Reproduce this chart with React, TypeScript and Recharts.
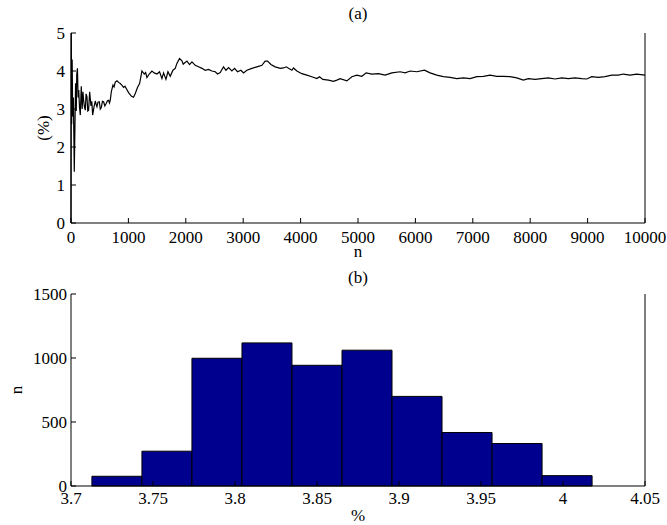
import React from 'react';
import { LineChart, Line, BarChart, Bar, XAxis, YAxis } from 'recharts';

// (a) running percentage vs n
const nValues = [
  0, 5, 12, 20, 30, 42, 57, 80, 92, 100, 112, 124, 135, 148, 162, 179, 195, 208, 220, 235,
  249, 263, 278, 292, 307, 325, 348, 362, 377, 400, 423, 438, 452, 470, 493, 510, 528, 548, 568, 590,
  615, 635, 655, 670, 684, 702, 731, 750, 771, 801, 830, 858, 885, 916, 940, 963, 1003, 1050, 1090, 1120,
  1160, 1195, 1236, 1276, 1300, 1323, 1363, 1410, 1450, 1497, 1543, 1584, 1613, 1654, 1689, 1729, 1776, 1816, 1845, 1891,
  1933, 1955, 1978, 2020, 2065, 2107, 2164, 2222, 2281, 2338, 2396, 2455, 2513, 2553, 2600, 2657, 2699, 2745, 2803, 2849,
  2901, 2960, 3006, 3064, 3151, 3239, 3326, 3383, 3424, 3483, 3557, 3645, 3702, 3749, 3790, 3848, 3876, 3935, 4022, 4109,
  4196, 4284, 4329, 4387, 4486, 4573, 4631, 4689, 4806, 4893, 4980, 5067, 5142, 5241, 5357, 5473, 5590, 5734, 5821, 5908,
  6025, 6157, 6256, 6373, 6488, 6605, 6721, 6837, 6953, 7070, 7185, 7301, 7418, 7533, 7649, 7766, 7881, 7968, 8085, 8201,
  8316, 8433, 8550, 8665, 8781, 8898, 8985, 9072, 9187, 9304, 9420, 9535, 9622, 9739, 9855, 10000,
];
const pctValues = [
  0, 5, 2.6, 4.3, 2.8, 3.3, 1.35, 3.68, 2.95, 3.9, 4.07, 3.3, 3.5, 3.05, 2.84, 3.6, 3.0, 3.45, 3.23, 3.05,
  2.97, 3.4, 3.32, 2.95, 2.97, 3.45, 3.08, 3.2, 2.84, 3.05, 3.21, 3.12, 3.06, 3.18, 3.19, 3.0, 3.04, 3.2, 3.19, 3.08,
  3.15, 3.22, 3.23, 3.16, 3.23, 3.45, 3.63, 3.58, 3.71, 3.74, 3.7, 3.67, 3.63, 3.57, 3.6, 3.54, 3.43, 3.34, 3.31, 3.41,
  3.57, 3.67, 4.0, 3.92, 3.96, 3.83, 3.92, 4.0, 3.95, 3.92, 3.98, 3.8, 3.95, 3.78, 3.98, 3.86, 4.02, 4.07, 4.2, 4.33,
  4.27, 4.18, 4.21, 4.26, 4.17, 4.24, 4.15, 4.11, 4.07, 4.02, 4.04, 4.0, 3.98, 3.92, 3.96, 4.11, 4.02, 4.09, 4.0, 4.07,
  3.98, 4.02, 3.95, 4.02, 4.07, 4.11, 4.15, 4.26, 4.26, 4.17, 4.11, 4.07, 4.08, 4.11, 4.07, 4.02, 4.08, 4.0, 3.93, 3.89,
  3.85, 3.8, 3.85, 3.78, 3.76, 3.73, 3.76, 3.8, 3.74, 3.85, 3.89, 3.86, 3.95, 3.92, 3.93, 3.89, 3.95, 3.98, 3.95, 4.0,
  3.98, 4.02, 3.95, 3.89, 3.85, 3.83, 3.8, 3.82, 3.8, 3.85, 3.86, 3.89, 3.86, 3.86, 3.85, 3.82, 3.76, 3.8, 3.78, 3.8,
  3.82, 3.79, 3.82, 3.8, 3.82, 3.8, 3.79, 3.85, 3.83, 3.85, 3.89, 3.89, 3.92, 3.89, 3.92, 3.89,
];
const nTicks = [0, 1000, 2000, 3000, 4000, 5000, 6000, 7000, 8000, 9000, 10000];
const pctTicks = [0, 1, 2, 3, 4, 5];

// (b) histogram
const binCenters = [3.728, 3.7585, 3.789, 3.8195, 3.85, 3.8805, 3.911, 3.9415, 3.972, 4.0025];
const binCounts = [76, 272, 998, 1118, 943, 1061, 700, 418, 332, 81];
const pctAxisTicks = [3.7, 3.75, 3.8, 3.85, 3.9, 3.95, 4, 4.05];
const countTicks = [0, 500, 1000, 1500];

const lineData = nValues.map((n, i) => ({ n, pct: pctValues[i] }));
const histData = binCenters.map((c, i) => ({ c, count: binCounts[i] }));

const FONT = '"Liberation Serif", "Times New Roman", serif';
const tickStyle = { fontFamily: FONT, fontSize: 17, fill: '#000' };
const axisLine = { stroke: '#000', strokeWidth: 1 };

const label = (text: string, x: number, y: number, rotate = false) => (
  <div
    style={{
      position: 'absolute',
      left: x,
      top: y,
      transform: `translate(-50%, -50%)${rotate ? ' rotate(-90deg)' : ''}`,
      fontFamily: FONT,
      fontSize: 17,
      color: '#000',
      whiteSpace: 'nowrap',
      lineHeight: 1,
    }}
  >
    {text}
  </div>
);

const App = () => {
  return (
    <div style={{ position: 'absolute', left: 0, top: 0, width: 667, height: 525, background: '#fff', overflow: 'hidden' }}>
      <div style={{ position: 'absolute', left: 0, top: 0 }}>
        <LineChart width={667} height={260} data={lineData} margin={{ top: 33, right: 0, bottom: 0, left: 0 }}>
          <XAxis
            xAxisId="b"
            dataKey="n"
            type="number"
            domain={[0, 10000]}
            ticks={nTicks}
            interval={0}
            height={37}
            tickSize={-5}
            tickMargin={13}
            tick={tickStyle}
            axisLine={axisLine}
            tickLine={axisLine}
          />
          <XAxis
            xAxisId="t"
            orientation="top"
            dataKey="n"
            type="number"
            domain={[0, 10000]}
            ticks={nTicks}
            height={0}
            tickSize={-5}
            tick={false}
            axisLine={axisLine}
            tickLine={axisLine}
          />
          <YAxis
            yAxisId="l"
            type="number"
            domain={[0, 5]}
            ticks={pctTicks}
            interval={0}
            width={71}
            tickSize={-5}
            tickMargin={11}
            tick={tickStyle}
            axisLine={axisLine}
            tickLine={axisLine}
          />
          <YAxis
            yAxisId="r"
            orientation="right"
            type="number"
            domain={[0, 5]}
            ticks={pctTicks}
            width={22}
            tickSize={-5}
            tick={false}
            axisLine={axisLine}
            tickLine={axisLine}
          />
          <Line
            xAxisId="b"
            yAxisId="l"
            dataKey="pct"
            type="linear"
            stroke="#000"
            strokeWidth={1.2}
            dot={false}
            isAnimationActive={false}
          />
        </LineChart>
      </div>
      <div style={{ position: 'absolute', left: 0, top: 260 }}>
        <BarChart
          width={667}
          height={265}
          data={histData}
          margin={{ top: 34, right: 0, bottom: 0, left: 0 }}
          barCategoryGap={0}
          barGap={0}
        >
          <XAxis
            xAxisId="b"
            dataKey="c"
            type="number"
            domain={[3.7, 4.05]}
            ticks={pctAxisTicks}
            interval={0}
            height={39}
            tickSize={-5}
            tickMargin={11}
            tick={tickStyle}
            axisLine={axisLine}
            tickLine={axisLine}
          />
          <XAxis
            xAxisId="t"
            orientation="top"
            dataKey="c"
            type="number"
            domain={[3.7, 4.05]}
            ticks={pctAxisTicks}
            height={0}
            tickSize={-5}
            tick={false}
            axisLine={axisLine}
            tickLine={axisLine}
          />
          <YAxis
            yAxisId="l"
            type="number"
            domain={[0, 1500]}
            ticks={countTicks}
            interval={0}
            width={71}
            tickSize={-5}
            tickMargin={9}
            tick={tickStyle}
            axisLine={axisLine}
            tickLine={axisLine}
          />
          <YAxis
            yAxisId="r"
            orientation="right"
            type="number"
            domain={[0, 1500]}
            ticks={countTicks}
            width={22}
            tickSize={-5}
            tick={false}
            axisLine={axisLine}
            tickLine={axisLine}
          />
          <Bar
            xAxisId="b"
            yAxisId="l"
            dataKey="count"
            fill="#00008F"
            stroke="#000"
            strokeWidth={1}
            isAnimationActive={false}
          />
        </BarChart>
      </div>
      {label('(a)', 358, 13)}
      {label('n', 358, 251)}
      {label('(%)', 43, 128, true)}
      {label('(b)', 358, 277)}
      {label('%', 358, 515)}
      {label('n', 16, 390, true)}
    </div>
  );
};

export default App;
